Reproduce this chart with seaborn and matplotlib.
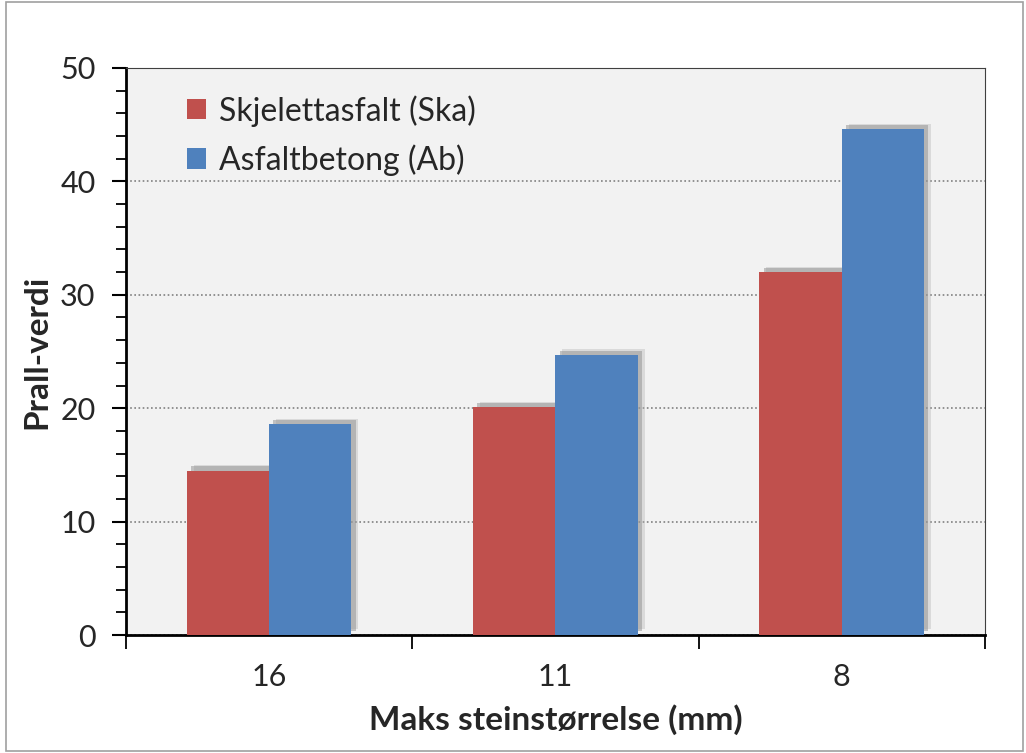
import matplotlib
matplotlib.use("Agg")
import matplotlib.pyplot as plt
import matplotlib.patheffects as pe
from matplotlib.ticker import MultipleLocator, FixedLocator
import seaborn as sns
import pandas as pd

categories = ["16", "11", "8"]
series_names = ["Skjelettasfalt (Ska)", "Asfaltbetong (Ab)"]
ska_values = [14.5, 20.1, 32.0]
ab_values = [18.6, 24.7, 44.6]
colors = ["#c0504d", "#4f81bd"]

df = pd.DataFrame({
    "cat": categories * 2,
    "serie": [series_names[0]] * 3 + [series_names[1]] * 3,
    "val": ska_values + ab_values,
})

sns.set_style("white")
plt.rcParams["font.family"] = ["Lato", "DejaVu Sans"]

fig = plt.figure(figsize=(10.26, 7.53), dpi=100)
ax = fig.add_axes([0.1228, 0.1567, 0.8372, 0.7530])
ax.set_facecolor("#f2f2f2")

sns.barplot(data=df, x="cat", y="val", hue="serie", order=categories,
            hue_order=series_names, palette=colors, width=0.575, gap=0,
            saturation=1, ax=ax, zorder=3, errorbar=None)

for p in ax.patches:
    p.set_edgecolor("none")
    p.set_path_effects([
        pe.SimplePatchShadow(offset=(5, 4), shadow_rgbFace="#b0b0b0", alpha=0.35),
        pe.SimplePatchShadow(offset=(3, 3), shadow_rgbFace="#909090", alpha=0.5),
        pe.Normal()])

ax.set_ylim(0, 50)
ax.set_xlim(-0.5, 2.5)
ax.yaxis.set_major_locator(MultipleLocator(10))
ax.yaxis.set_minor_locator(MultipleLocator(2))
ax.grid(axis="y", which="major", linestyle=(0, (1, 1.5)), color="#808080", linewidth=1.2, zorder=1)
ax.set_axisbelow(True)

ax.xaxis.set_minor_locator(FixedLocator([-0.5, 0.5, 1.5, 2.5]))
ax.tick_params(axis="x", which="major", length=0, labelsize=22, pad=20)
ax.tick_params(axis="x", which="minor", length=10, width=1.3, direction="out", color="black", bottom=True)
ax.tick_params(axis="y", which="major", length=10, width=1.5, direction="out", color="black", labelsize=22, left=True, pad=12)
ax.tick_params(axis="y", which="minor", length=7, width=1.3, direction="out", color="black", left=True)

for s in ["left", "bottom"]:
    ax.spines[s].set_linewidth(2)
    ax.spines[s].set_color("black")
for s in ["top", "right"]:
    ax.spines[s].set_linewidth(0.8)
    ax.spines[s].set_color("#404040")

ax.set_xlabel("Maks steinstørrelse (mm)", fontsize=24, fontweight="bold", labelpad=10)
ax.set_ylabel("Prall-verdi", fontsize=24, fontweight="bold", labelpad=6)

leg = ax.legend(loc="upper left", frameon=False, fontsize=23, handlelength=0.6,
                handleheight=0.6, handletextpad=0.4, labelspacing=0.55,
                borderaxespad=0, bbox_to_anchor=(0.056, 0.975))
for h in leg.legend_handles:
    h.set_path_effects([])

fig.patches.append(plt.Rectangle((0.006, 0.002), 0.991, 0.996, transform=fig.transFigure,
                                 fill=False, edgecolor="#a0a0a0", linewidth=1.2))

fig.savefig("out.png", dpi=100, facecolor="white")
